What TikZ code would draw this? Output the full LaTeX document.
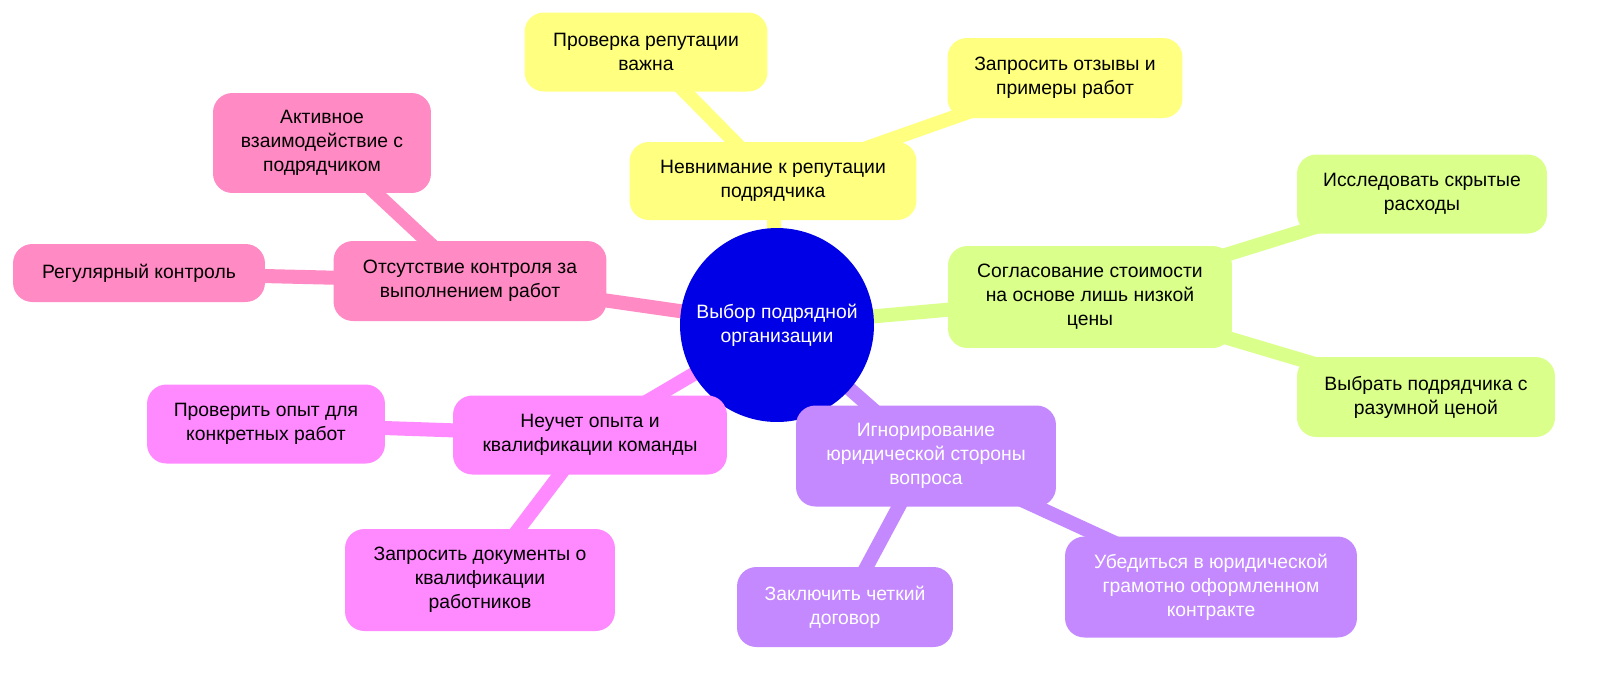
\documentclass[tikz,border=0pt]{standalone}
\usepackage{fontspec}
\setmainfont{Liberation Sans}
\usetikzlibrary{backgrounds}
\begin{document}
\begin{tikzpicture}[x=0.02cm,y=-0.02cm,
  bx/.style={rounded corners=11pt,align=center,inner sep=2pt,font=\fontsize{11}{13.6}\selectfont},
  ed/.style={line width=8pt}]
\definecolor{cy}{HTML}{FFFF80}
\definecolor{cg}{HTML}{DAFF8A}
\definecolor{cp}{HTML}{C489FF}
\definecolor{cmg}{HTML}{FF8AFF}
\definecolor{ck}{HTML}{FF8AC4}
\definecolor{cb}{HTML}{0000E6}
\useasboundingbox (0,0) rectangle (1600,674);
\node[circle,fill=cb,minimum size=3.88cm,text=white,align=center,font=\fontsize{11}{13.6}\selectfont] (c) at (777,325) {Выбор подрядной\\организации};
\node[bx,fill=cy,minimum width=5.74cm,minimum height=1.56cm] (y) at (773,181) {Невнимание к репутации\\подрядчика};
\node[bx,fill=cy,minimum width=4.86cm,minimum height=1.58cm] (y1) at (646,52) {Проверка репутации\\важна};
\node[bx,fill=cy,minimum width=4.7cm,minimum height=1.6cm] (y2) at (1065,78) {Запросить отзывы и\\примеры работ};
\node[bx,fill=cg,minimum width=5.68cm,minimum height=2.04cm] (g) at (1090,297) {Согласование стоимости\\на основе лишь низкой\\цены};
\node[bx,fill=cg,minimum width=5cm,minimum height=1.58cm] (g1) at (1422,194) {Исследовать скрытые\\расходы};
\node[bx,fill=cg,minimum width=5.16cm,minimum height=1.6cm] (g2) at (1426,397) {Выбрать подрядчика с\\разумной ценой};
\node[bx,fill=cp,text=white,minimum width=5.2cm,minimum height=2.02cm] (p) at (926,456) {Игнорирование\\юридической стороны\\вопроса};
\node[bx,fill=cp,text=white,minimum width=4.32cm,minimum height=1.6cm] (p1) at (845,607) {Заключить четкий\\договор};
\node[bx,fill=cp,text=white,minimum width=5.84cm,minimum height=2.02cm] (p2) at (1211,587) {Убедиться в юридической\\грамотно оформленном\\контракте};
\node[bx,fill=cmg,minimum width=5.48cm,minimum height=1.58cm] (m) at (590,435) {Неучет опыта и\\квалификации команды};
\node[bx,fill=cmg,minimum width=4.76cm,minimum height=1.58cm] (m1) at (266,424) {Проверить опыт для\\конкретных работ};
\node[bx,fill=cmg,minimum width=5.4cm,minimum height=2.04cm] (m2) at (480,580) {Запросить документы о\\квалификации\\работников};
\node[bx,fill=ck,minimum width=5.46cm,minimum height=1.6cm] (k) at (470,281) {Отсутствие контроля за\\выполнением работ};
\node[bx,fill=ck,minimum width=4.36cm,minimum height=2cm] (k1) at (322,143) {Активное\\взаимодействие с\\подрядчиком};
\node[bx,fill=ck,minimum width=5.04cm,minimum height=1.16cm] (k2) at (139,273) {Регулярный контроль};
\begin{scope}[on background layer]
\draw[ed,cy] (c.center) -- (y.center) (y.center) -- (y1.center) (y.center) -- (y2.center);
\draw[ed,cg] (c.center) -- (g.center) (g.center) -- (g1.center) (g.center) -- (g2.center);
\draw[ed,cp] (c.center) -- (p.center) (p.center) -- (p1.center) (p.center) -- (p2.center);
\draw[ed,cmg] (c.center) -- (m.center) (m.center) -- (m1.center) (m.center) -- (m2.center);
\draw[ed,ck] (c.center) -- (k.center) (k.center) -- (k1.center) (k.center) -- (k2.center);
\end{scope}
\end{tikzpicture}
\end{document}
